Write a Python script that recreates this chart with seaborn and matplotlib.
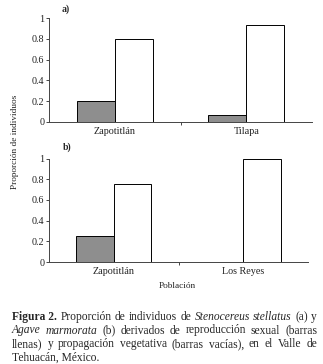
import matplotlib
matplotlib.use('Agg')
import matplotlib.pyplot as plt
import seaborn as sns
import pandas as pd

# panel a) Stenocereus stellatus
poblaciones_a = ['Zapotitlán', 'Tilapa']
sexual_a = [0.20, 0.07]
vegetativa_a = [0.80, 0.93]

# panel b) Agave marmorata
poblaciones_b = ['Zapotitlán', 'Los Reyes']
sexual_b = [0.25, 0.0]
vegetativa_b = [0.75, 1.0]

yticks = [0, 0.2, 0.4, 0.6, 0.8, 1]
ytick_labels = ['0', '0.2', '0.4', '0.6', '0.8', '1']

caption_lines = [
    [('Figura 2.', 'bold'), ('Proporción', ''), ('de', ''), ('individuos', ''), ('de', ''),
     ('Stenocereus', 'italic'), ('stellatus', 'italic'), ('(a)', ''), ('y', '')],
    [('Agave', 'italic'), ('marmorata', 'italic'), ('(b)', ''), ('derivados', ''), ('de', ''),
     ('reproducción', ''), ('sexual', ''), ('(barras', '')],
    [('llenas)', ''), ('y', ''), ('propagación', ''), ('vegetativa', ''), ('(barras', ''),
     ('vacías),', ''), ('en', ''), ('el', ''), ('Valle', ''), ('de', '')],
    [('Tehuacán, México.', '')],
]
caption_y = [317, 330.5, 344, 357.5]

sns.set_theme(style='white')
plt.rcParams['font.family'] = ['Liberation Serif', 'DejaVu Serif']

W, H = 323, 364
fig = plt.figure(figsize=(W / 100, H / 100), dpi=100)
ax_a = fig.add_axes([49 / W, 1 - 122 / H, 263 / W, 104 / H])
ax_b = fig.add_axes([49 / W, 1 - 262 / H, 259 / W, 103.5 / H])


def panel(ax, pobl, sexual, veg):
    df = pd.DataFrame({
        'Población': pobl + pobl,
        'Proporción': sexual + veg,
        'Tipo': ['sexual'] * len(pobl) + ['vegetativa'] * len(pobl),
    })
    sns.barplot(data=df, x='Población', y='Proporción', hue='Tipo',
                palette={'sexual': '#8e8e8e', 'vegetativa': 'white'},
                width=0.58, edgecolor='black', linewidth=0.7, saturation=1,
                legend=False, ax=ax)
    ax.set_xlim(-0.5, 1.5)
    ax.set_ylim(0, 1)
    ax.set_yticks(yticks)
    ax.set_yticklabels(ytick_labels)
    ax.set_xticks([0.5], minor=True)
    ax.set_xlabel('')
    ax.set_ylabel('')
    for s in ['top', 'right']:
        ax.spines[s].set_visible(False)
    for s in ['left', 'bottom']:
        ax.spines[s].set_color('#444444')
        ax.spines[s].set_linewidth(0.7)
    ax.tick_params(axis='y', left=True, length=2.2, width=0.7, color='#444444',
                   pad=1, labelsize=7.3, labelcolor='#222222')
    ax.tick_params(axis='x', which='major', bottom=False, length=0, pad=3.5,
                   labelsize=7.3, labelcolor='#222222')
    ax.tick_params(axis='x', which='minor', bottom=True, length=2.5, width=0.7,
                   color='#444444')
    ax.set_facecolor('white')


panel(ax_a, poblaciones_a, sexual_a, vegetativa_a)
panel(ax_b, poblaciones_b, sexual_b, vegetativa_b)

fig.text(66 / W, 1 - 9 / H, 'a)', fontsize=7, fontweight='bold', va='center', ha='center')
fig.text(67 / W, 1 - 147 / H, 'b)', fontsize=7, fontweight='bold', va='center', ha='center')
fig.text(15 / W, 1 - 142 / H, 'Proporción de individuos', rotation=90, fontsize=6.7,
         va='center', ha='center', color='#222222')
fig.text(177 / W, 1 - 286 / H, 'Población', fontsize=6.7, va='center', ha='center',
         color='#222222')

# justified caption
fig.canvas.draw()
r = fig.canvas.get_renderer()
x0, x1 = 12 / W, 317 / W
for i, line in enumerate(caption_lines):
    y = 1 - caption_y[i] / H
    texts = []
    for word, style in line:
        t = fig.text(x0, y, word, fontsize=8.3, va='center', ha='left',
                     fontweight='bold' if style == 'bold' else 'normal',
                     fontstyle='italic' if style == 'italic' else 'normal')
        texts.append(t)
    widths = [t.get_window_extent(r).width / fig.bbox.width for t in texts]
    if len(texts) > 1:
        gap = (x1 - x0 - sum(widths)) / (len(texts) - 1)
        x = x0
        for t, w in zip(texts, widths):
            t.set_x(x)
            x += w + gap

fig.savefig('out.png', dpi=100, facecolor='white')
